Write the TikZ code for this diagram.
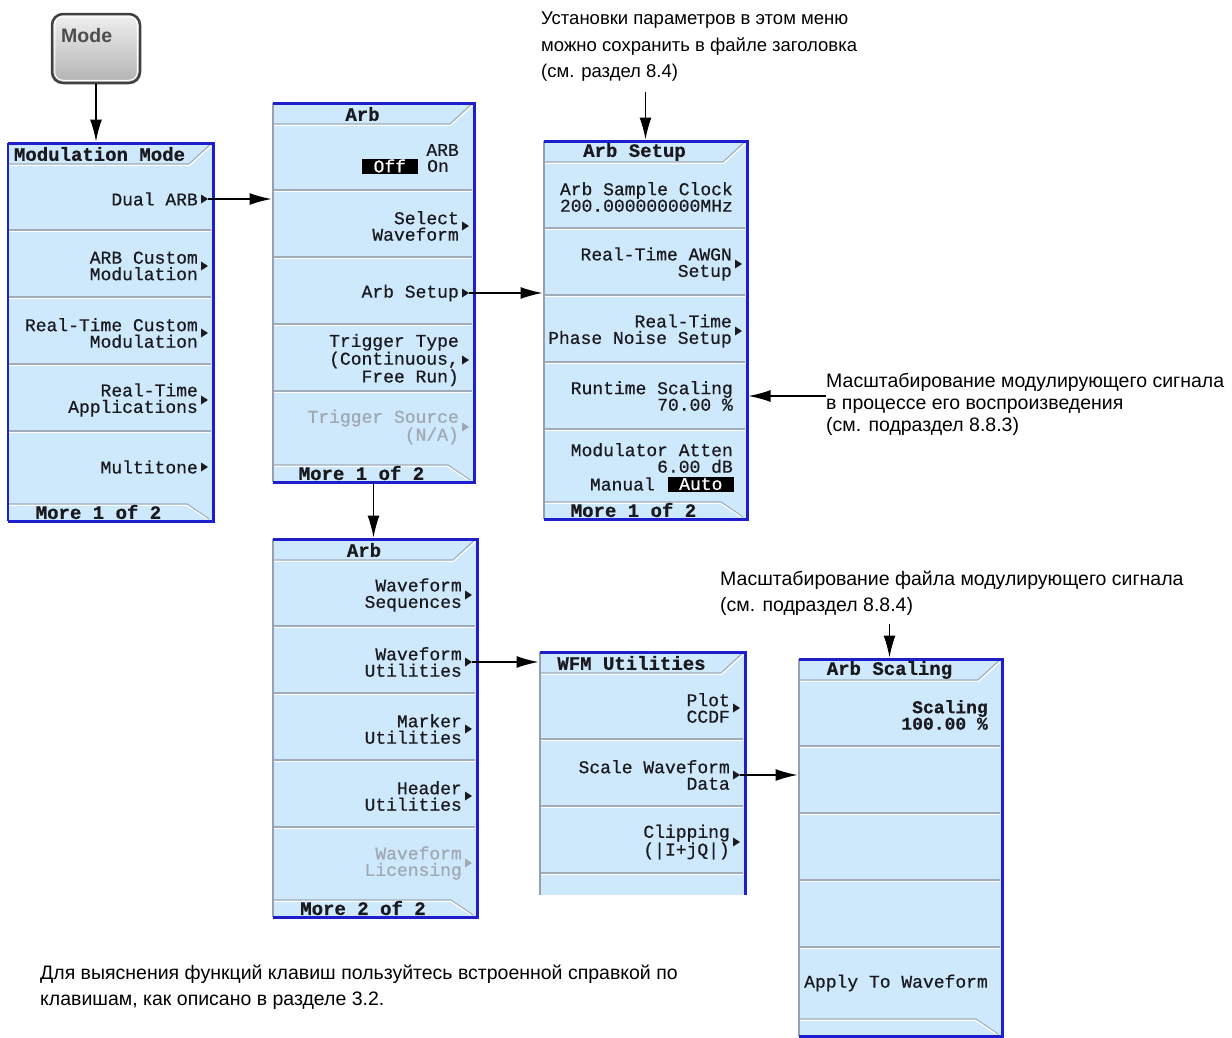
\documentclass[tikz,border=0pt]{standalone}
\usepackage{fontspec}
\setmainfont{Liberation Sans}
\newfontfamily\scrfont[FakeBold=0.6]{Liberation Mono}
\usetikzlibrary{arrows.meta,calc}

\definecolor{panelfill}{RGB}{206,232,252}
\definecolor{panelblue}{RGB}{30,30,205}
\definecolor{panelgray}{RGB}{150,160,175}
\definecolor{sepgray}{RGB}{160,172,185}
\definecolor{scrtext}{RGB}{25,25,30}
\definecolor{scrdim}{RGB}{160,168,178}

\tikzset{
  menubox/.style={fill=panelfill, inner sep=0, outer sep=0, draw=none},
  rim/.style={draw=panelblue, line width=3pt, line join=miter},
  leftrim/.style={draw=panelgray, line width=1.2pt},
  sepdark/.style={draw=sepgray, line width=1.1pt},
  seplight/.style={draw=white, line width=1.1pt},
  key/.style={font=\scrfont\fontsize{18}{16.5}\selectfont, text=scrtext, align=right, inner sep=0, anchor=east},
  keydim/.style={key, text=scrdim},
  keybold/.style={key, font=\scrfont\bfseries\fontsize{18}{16.5}\selectfont},
  keyhead/.style={font=\scrfont\bfseries\fontsize{19}{16.5}\selectfont, text=scrtext, inner sep=0},
  hl/.style={font=\scrfont\fontsize{18}{16.5}\selectfont, fill=black, text=white, inner sep=0, anchor=east, minimum height=15},
  note/.style={font=\fontsize{19.5}{#1}\selectfont, align=left, inner sep=0, text=black, anchor=north west},
  conn/.style={draw=black, line width=1.4pt, -{Latex[length=22pt,width=12pt]}, shorten >=1.5pt},
}

% softkey menu panel: name, left, top, right, bottom, title, footer
\newcommand{\softmenu}[7]{%
  \node[menubox, anchor=north west, minimum width={#4-#2}, minimum height={#5-#3}] (#1) at (#2,#3) {};
  \draw[sepdark] (#2+1,#3+21) -- (#4-24,#3+21) -- (#4-3,#3+1.5);
  \draw[seplight] (#2+1,#3+22.3) -- (#4-23.4,#3+22.3) -- (#4-2,#3+3);
  \node[keyhead] (#1-head) at ({(#2+#4-22)/2},#3+11) {#6};
  \foreach \k in {1,...,4}{
    \draw[sepdark] (#2+1,#3+20+67*\k) -- (#4-2,#3+20+67*\k);
    \draw[seplight] (#2+1,#3+21.3+67*\k) -- (#4-2,#3+21.3+67*\k);
  }
  \draw[sepdark] (#2+1,#5-17) -- (#4-26,#5-17) -- (#4-4,#5-2);
  \draw[seplight] (#2+1,#5-15.7) -- (#4-26.5,#5-15.7) -- (#4-6,#5-2);
  \node[keyhead] (#1-more) at ({(#2+#4-24)/2},#5-9) {#7};
  \draw[leftrim] (#1.north west) -- (#1.south west);
  \draw[rim] (#1.north west) -- (#1.north east) -- (#1.south east) -- (#1.south west);
}

% submenu marker: colour, name, right edge, y
\newcommand{\subtip}[4][scrtext]{%
  \fill[#1] (#3-12,#4-4.5) -- (#3-5,#4) -- (#3-12,#4+4.5) -- cycle;
  \coordinate (#2) at (#3-5,#4);
}

\begin{document}
\begin{tikzpicture}[x=1pt, y=-1pt]
\fill[white] (0,0) rectangle (1232,1037);
\useasboundingbox (0,0) rectangle (1232,1037);

% ---- Mode hardkey ----
\node[draw=black!75, line width=2.5pt, rounded corners=11pt, top color=gray!12, bottom color=gray!60,
      minimum width=88, minimum height=69, inner sep=0] (mode) at (96,48.5) {};
\draw[white, line width=1pt, rounded corners=8pt] ($(mode.north west)+(4,4)$) rectangle ($(mode.south east)+(-4,-4)$);
\node[font=\bfseries\fontsize{19.5}{20}\selectfont, text=black!70, anchor=base west, inner sep=0] (mode-label) at (61,42) {Mode};

% ---- Modulation Mode ----
\softmenu{mm}{8}{143}{213}{521}{Modulation Mode}{More 1 of 2}
\draw[panelblue, line width=2pt] (mm.north west) -- (mm.south west);
\node[key] (mm-k1) at (198,199) {Dual ARB};                 \subtip{mm-a1}{213}{199}
\node[key] (mm-k2) at (198,266) {ARB Custom\\Modulation};    \subtip{mm-a2}{213}{266}
\node[key] (mm-k3) at (198,333) {Real-Time Custom\\Modulation}; \subtip{mm-a3}{213}{333}
\node[key] (mm-k4) at (198,400) {Real-Time\\Applications};   \subtip{mm-a4}{213}{400}
\node[key] (mm-k5) at (198,467) {Multitone};                \subtip{mm-a5}{213}{467}

% ---- Arb (page 1) ----
\softmenu{arbA}{273}{103}{474}{482}{Arb}{More 1 of 2}
\node[key] (arbA-k1) at (459,150) {ARB};
\node[key] (arbA-on) at (449,166) {On};
\node[hl, minimum width=56] (arbA-off) at (418,166) {Off};
\node[key] (arbA-k2) at (459,226) {Select\\Waveform};        \subtip{arbA-a2}{474}{226}
\node[key] (arbA-k3) at (459,293) {Arb Setup};               \subtip{arbA-a3}{474}{293}
\node[key] (arbA-k4) at (459,360) {Trigger Type\\(Continuous,\\Free Run)}; \subtip{arbA-a4}{474}{360}
\node[keydim] (arbA-k5) at (459,427) {Trigger Source\\(N/A)}; \subtip[scrdim]{arbA-a5}{474}{427}

% ---- Arb Setup ----
\softmenu{setup}{544}{141}{747}{519}{Arb Setup}{More 1 of 2}
\node[key] (setup-k1) at (733,197) {Arb Sample Clock\\200.000000000MHz};
\node[key] (setup-k2) at (732,264) {Real-Time AWGN\\Setup};   \subtip{setup-a2}{747}{264}
\node[key] (setup-k3) at (732,331) {Real-Time\\Phase Noise Setup}; \subtip{setup-a3}{747}{331}
\node[key] (setup-k4) at (733,396) {Runtime Scaling\\70.00 \%};
\node[key] (setup-k5) at (733,458) {Modulator Atten\\6.00 dB};
\node[hl, minimum width=66] (setup-auto) at (734,484) {Auto};
\node[key] (setup-man) at (655,484) {Manual};

% ---- Arb (page 2) ----
\softmenu{arbB}{273}{539}{477}{917}{Arb}{More 2 of 2}
\node[key] (arbB-k1) at (462,595) {Waveform\\Sequences};     \subtip{arbB-a1}{477}{595}
\node[key] (arbB-k2) at (462,662) {Waveform\\Utilities};     \subtip{arbB-a2}{477}{662}
\node[key] (arbB-k3) at (462,729) {Marker\\Utilities};       \subtip{arbB-a3}{477}{729}
\node[key] (arbB-k4) at (462,796) {Header\\Utilities};       \subtip{arbB-a4}{477}{796}
\node[keydim] (arbB-k5) at (462,863) {Waveform\\Licensing};  \subtip[scrdim]{arbB-a5}{477}{863}

% ---- WFM Utilities (lower part not shown) ----
\node[menubox, anchor=north west, minimum width=205, minimum height=243] (wfm) at (540,652) {};
\draw[sepdark] (541,673) -- (721,673) -- (742,653.5);
\draw[seplight] (541,674.3) -- (721.6,674.3) -- (743,655);
\node[keyhead] (wfm-head) at (631.5,663) {WFM Utilities};
\foreach \k in {1,2,3}{
  \draw[sepdark] (541,672+67*\k) -- (743,672+67*\k);
  \draw[seplight] (541,673.3+67*\k) -- (743,673.3+67*\k);
}
\draw[leftrim] (wfm.north west) -- (wfm.south west);
\draw[rim] (wfm.north west) -- (wfm.north east) -- (wfm.south east);
\node[key] (wfm-k1) at (730,708) {Plot\\CCDF};                \subtip{wfm-a1}{745}{708}
\node[key] (wfm-k2) at (730,775) {Scale Waveform\\Data};      \subtip{wfm-a2}{745}{775}
\node[key] (wfm-k3) at (730,842) {Clipping\\(|I+jQ|)};        \subtip{wfm-a3}{745}{842}

% ---- Arb Scaling ----
\softmenu{scal}{799}{659}{1002}{1036}{Arb Scaling}{}
\node[keybold] (scal-k1) at (988,715) {Scaling\\100.00 \%};
\node[key] (scal-k5) at (988,983) {Apply To Waveform};

% ---- annotations ----
\node[note=26.5, font=\fontsize{18.5}{26.5}\selectfont] (noteA) at (541,12) {Установки параметров в этом меню\\можно сохранить в файле заголовка\\(см. раздел 8.4)};
\node[note=22] (noteB) at (826,373) {Масштабирование модулирующего сигнала\\в процессе его воспроизведения\\(см. подраздел 8.8.3)};
\node[note=26] (noteC) at (720,571) {Масштабирование файла модулирующего сигнала\\(см. подраздел 8.8.4)};
\node[note=26] (noteD) at (40,965) {Для выяснения функций клавиш пользуйтесь встроенной справкой по\\клавишам, как описано в разделе 3.2.};

% ---- connectors ----
\draw[conn] (mode.south) -- (mode.south |- mm.north);
\draw[conn] (mm-a1) -- (arbA.west |- mm-a1);
\draw[conn] (arbA-a3) -- (setup.west |- arbA-a3);
\draw[conn] (arbA.south) -- (arbA.south |- arbB.north);
\draw[conn] (arbB-a2) -- (wfm.west |- arbB-a2);
\draw[conn] (wfm-a2) -- (scal.west |- wfm-a2);
\draw[conn, shorten <=10pt] (setup.north |- noteA.south) -- (setup.north);
\draw[conn] (noteB.west |- setup-k4) -- (setup.east |- setup-k4);
\draw[conn, shorten <=8pt] (scal-head |- noteC.south) -- (scal-head |- scal.north);
\end{tikzpicture}
\end{document}
